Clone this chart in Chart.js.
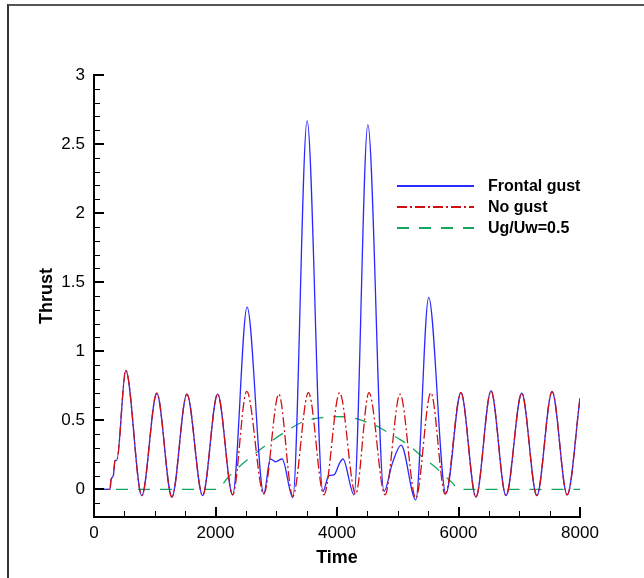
<!DOCTYPE html>
<html>
<head>
<meta charset="utf-8">
<script src="https://cdn.jsdelivr.net/npm/chart.js@4.4.1/dist/chart.umd.min.js"></script>
<style>
  html, body { margin:0; padding:0; background:#fff; }
  #wrap { position:relative; width:644px; height:578px; }
  #frame { position:absolute; left:7px; top:4px; right:0; bottom:0; border-top:2px solid #555; border-left:2px solid #333; pointer-events:none; }
  canvas { position:absolute; left:0; top:0; }
</style>
</head>
<body>
<div id="wrap">
  <canvas id="thrust" width="644" height="578"></canvas>
  <div id="frame"></div>
</div>
<script>
const xTicks = [0, 2000, 4000, 6000, 8000];
const yTicks = [0, 0.5, 1, 1.5, 2, 2.5, 3];

// Frontal gust
const frontalT = [0, 264, 280, 318, 346, 374, 523, 787, 1034, 1282, 1529, 1788, 2035, 2283, 2520, 2795, 2904, 2987, 3097, 3273, 3508, 3768, 3866, 3949, 4043, 4098, 4280, 4508, 4774, 4912, 5055, 5297, 5509, 5792, 6040, 6287, 6535, 6782, 7041, 7289, 7541, 7789, 8000];
const frontalV = [0, 0, 0.07, 0.10, 0.21, 0.21, 0.862, -0.045, 0.696, -0.056, 0.69, -0.045, 0.69, -0.04, 1.32, -0.03, 0.22, 0.20, 0.22, -0.06, 2.67, -0.015, 0.10, 0.105, 0.19, 0.22, -0.04, 2.64, -0.015, 0.19, 0.32, -0.076, 1.39, -0.03, 0.70, -0.056, 0.713, -0.045, 0.696, -0.045, 0.708, -0.04, 0.66];

// No gust
const noGustT = [0, 264, 280, 318, 346, 374, 523, 787, 1034, 1282, 1529, 1788, 2035, 2283, 2514, 2795, 3042, 3273, 3530, 3784, 4043, 4307, 4527, 4790, 5038, 5297, 5545, 5781, 6040, 6287, 6535, 6782, 7041, 7289, 7541, 7789, 8000];
const noGustV = [0, 0, 0.07, 0.10, 0.21, 0.21, 0.862, -0.045, 0.696, -0.056, 0.69, -0.045, 0.69, -0.04, 0.71, -0.035, 0.69, -0.05, 0.70, -0.04, 0.70, -0.035, 0.70, -0.04, 0.69, -0.064, 0.70, -0.035, 0.70, -0.056, 0.713, -0.045, 0.696, -0.045, 0.708, -0.04, 0.66];

// Ug/Uw=0.5
const gustT = [0, 2024, 2208, 2483, 2785, 3089, 3446, 3804, 3969, 4169, 4334, 4527, 4692, 4884, 5022, 5187, 5325, 5490, 5627, 5764, 5902, 6000, 8000];
const gustV = [0, 0, 0.088, 0.20, 0.305, 0.40, 0.49, 0.522, 0.527, 0.525, 0.51, 0.48, 0.45, 0.40, 0.365, 0.317, 0.266, 0.206, 0.158, 0.10, 0.045, 0, 0];

const pts = (t, v) => t.map((x, i) => ({ x, y: v[i] }));

const FONT = '"Liberation Sans", Arial, Helvetica, sans-serif';

// inward tick marks (Tecplot style)
const axisTicks = {
  id: "axisTicks",
  afterDatasetsDraw(chart) {
    const { ctx, chartArea: a, scales: { x, y } } = chart;
    ctx.save();
    ctx.strokeStyle = "#000";
    for (let i = 0; i <= 16; i++) {
      const major = i % 4 === 0;
      const px = major ? Math.round(x.getPixelForValue(i * 500)) : Math.round(x.getPixelForValue(i * 500)) + 0.5;
      ctx.lineWidth = major ? 2 : 1;
      ctx.beginPath();
      ctx.moveTo(px, a.bottom);
      ctx.lineTo(px, a.bottom - (major ? 10 : 6));
      ctx.stroke();
    }
    for (let i = -2; i <= 30; i++) {
      const major = i % 5 === 0;
      const py = major ? Math.round(y.getPixelForValue(i / 10)) : Math.round(y.getPixelForValue(i / 10)) + 0.5;
      ctx.lineWidth = major ? 2 : 1;
      ctx.beginPath();
      ctx.moveTo(a.left, py);
      ctx.lineTo(a.left + (major ? 10 : 6), py);
      ctx.stroke();
    }
    ctx.restore();
  }
};

// legend drawn inside plot, right of the peaks
const boxLegend = {
  id: "boxLegend",
  afterDraw(chart) {
    const { ctx } = chart;
    chart.data.datasets.forEach((ds, i) => {
      const yy = 186 + i * 21;
      ctx.save();
      ctx.strokeStyle = ds.borderColor;
      ctx.lineWidth = ds.borderWidth + 0.6;
      ctx.setLineDash(ds.borderDash || []);
      ctx.beginPath();
      ctx.moveTo(397, yy);
      ctx.lineTo(474, yy);
      ctx.stroke();
      ctx.setLineDash([]);
      ctx.fillStyle = "#000";
      ctx.font = "bold 16px " + FONT;
      ctx.textBaseline = "middle";
      ctx.fillText(ds.label, 488, yy + 1);
      ctx.restore();
    });
  }
};

new Chart(document.getElementById("thrust"), {
  type: "line",
  data: {
    datasets: [
      {
        label: "Frontal gust",
        data: pts(frontalT, frontalV),
        borderColor: "#2a2aff",
        borderWidth: 1.3,
        order: 1
      },
      {
        label: "No gust",
        data: pts(noGustT, noGustV),
        borderColor: "#d01010",
        borderWidth: 1.3,
        borderDash: [10, 3, 2, 3],
        order: 0
      },
      {
        label: "Ug/Uw=0.5",
        data: pts(gustT, gustV),
        borderColor: "#10a860",
        borderWidth: 1.3,
        borderDash: [12, 10],
        order: 2
      }
    ]
  },
  options: {
    responsive: false,
    animation: false,
    devicePixelRatio: 1,
    layout: { padding: { top: 75, right: 64, bottom: 0, left: 0 } },
    elements: {
      line: { cubicInterpolationMode: "monotone", fill: false },
      point: { radius: 0 }
    },
    plugins: { legend: { display: false }, tooltip: { enabled: false } },
    scales: {
      x: {
        type: "linear",
        min: 0, max: 8000,
        afterBuildTicks: (s) => { s.ticks = xTicks.map(v => ({ value: v })); },
        afterFit: (s) => { s.height = 61; },
        grid: { display: false, drawTicks: false },
        border: { display: true, color: "#000", width: 2 },
        ticks: { color: "#000", font: { family: FONT, size: 17 }, padding: 6, maxRotation: 0, callback: (v) => String(v) },
        title: { display: true, text: "Time", color: "#000", font: { family: FONT, size: 18, weight: "bold" }, padding: { top: 0, bottom: 9 } }
      },
      y: {
        min: -0.2, max: 3,
        afterBuildTicks: (s) => { s.ticks = yTicks.map(v => ({ value: v })); },
        afterFit: (s) => { s.width = 94; },
        grid: { display: false, drawTicks: false },
        border: { display: true, color: "#000", width: 2 },
        ticks: { color: "#000", font: { family: FONT, size: 17 }, padding: 9, callback: (v) => String(v) },
        title: { display: true, text: "Thrust", color: "#000", font: { family: FONT, size: 18, weight: "bold" }, padding: { top: 36, bottom: 0 } }
      }
    }
  },
  plugins: [axisTicks, boxLegend]
});
</script>
</body>
</html>
